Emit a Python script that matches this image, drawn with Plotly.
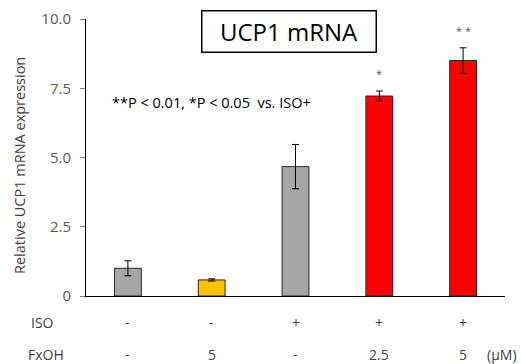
import plotly.graph_objects as go

categories = ["c1", "c2", "c3", "c4", "c5"]
values = [1.0, 0.58, 4.67, 7.22, 8.5]
errors = [0.27, 0.04, 0.8, 0.18, 0.46]
colors = ["#A6A6A6", "#FFC000", "#A6A6A6", "#FF0000", "#FF0000"]
iso_labels = ["-", "-", "+", "+", "+"]
fxoh_labels = ["-", "5", "-", "2.5", "5"]
stars = ["", "", "", "*", "* *"]
y_ticks = [0, 2.5, 5.0, 7.5, 10.0]
y_tick_text = ["0", "2.5", "5.0", "7.5", "10.0"]

FONT = "Open Sans"
ROWFONT = dict(family=FONT, size=14, color="#404040")

top, bottom = 19, 296
left, right = 86, 505


def py(ypix):
    return (bottom - ypix) / (bottom - top)


def px(xpix):
    return (xpix - left) / (right - left)


fig = go.Figure()
fig.add_trace(go.Bar(
    x=categories, y=values,
    marker=dict(color=colors, line=dict(color="#262626", width=1)),
    width=0.32,
    error_y=dict(type="data", array=errors, color="#000000", thickness=1, width=3.5),
))

annotations = []
for c, s, v, e in zip(categories, stars, values, errors):
    if s:
        annotations.append(dict(x=c, y=v + e + 0.3, xref="x", yref="y", text=s,
                                showarrow=False, yanchor="bottom",
                                font=dict(family=FONT, size=11, color="#595959")))
for c, t in zip(categories, iso_labels):
    annotations.append(dict(x=c, y=py(322), xref="x", yref="paper", text=t,
                            showarrow=False, yanchor="middle", font=ROWFONT))
for c, t in zip(categories, fxoh_labels):
    annotations.append(dict(x=c, y=py(354), xref="x", yref="paper", text=t,
                            showarrow=False, yanchor="middle", font=ROWFONT))

annotations.append(dict(x=px(56), y=py(322), xref="paper", yref="paper", text="ISO",
                        showarrow=False, xanchor="right", yanchor="middle", font=ROWFONT))
annotations.append(dict(x=px(66), y=py(354), xref="paper", yref="paper", text="FxOH",
                        showarrow=False, xanchor="right", yanchor="middle", font=ROWFONT))
annotations.append(dict(x=px(485), y=py(354), xref="paper", yref="paper", text="(μM)",
                        showarrow=False, xanchor="left", yanchor="middle", font=ROWFONT))
annotations.append(dict(x=px(110), y=py(102), xref="paper", yref="paper",
                        text="**P < 0.01, *P < 0.05  vs. ISO+", showarrow=False,
                        xanchor="left", yanchor="middle",
                        font=dict(family=FONT, size=14.5, color="#000000")))
annotations.append(dict(x=px(288.5), y=py(31.5), xref="paper", yref="paper",
                        text="UCP1 mRNA", showarrow=False, xanchor="center", yanchor="middle",
                        font=dict(family=FONT, size=24, color="#000000"),
                        bordercolor="#000000", borderwidth=1.5, borderpad=0,
                        bgcolor="white", width=173, height=40))
annotations.append(dict(x=px(19), y=py(166), xref="paper", yref="paper",
                        text="Relative UCP1 mRNA expression", showarrow=False,
                        textangle=-90, xanchor="center", yanchor="middle",
                        font=dict(family=FONT, size=14.5, color="#404040")))

fig.update_layout(
    width=521, height=364,
    margin=dict(l=left, r=521 - right, t=top, b=364 - bottom, autoexpand=False),
    paper_bgcolor="white", plot_bgcolor="white",
    showlegend=False,
    annotations=annotations,
    xaxis=dict(showticklabels=False, showline=True, linecolor="#000000", linewidth=1,
               ticks="", showgrid=False, zeroline=False),
    yaxis=dict(range=[0, 10], tickvals=y_ticks, ticktext=y_tick_text,
               showline=True, linecolor="#000000", linewidth=1,
               ticks="outside", ticklen=5, tickcolor="#808080",
               ticklabelstandoff=6,
               showgrid=False, zeroline=False, automargin=False,
               tickfont=dict(family=FONT, size=15, color="#595959")),
)

fig.write_html("out.html", config={"displayModeBar": False},
               post_script="document.body.style.margin='0';")
